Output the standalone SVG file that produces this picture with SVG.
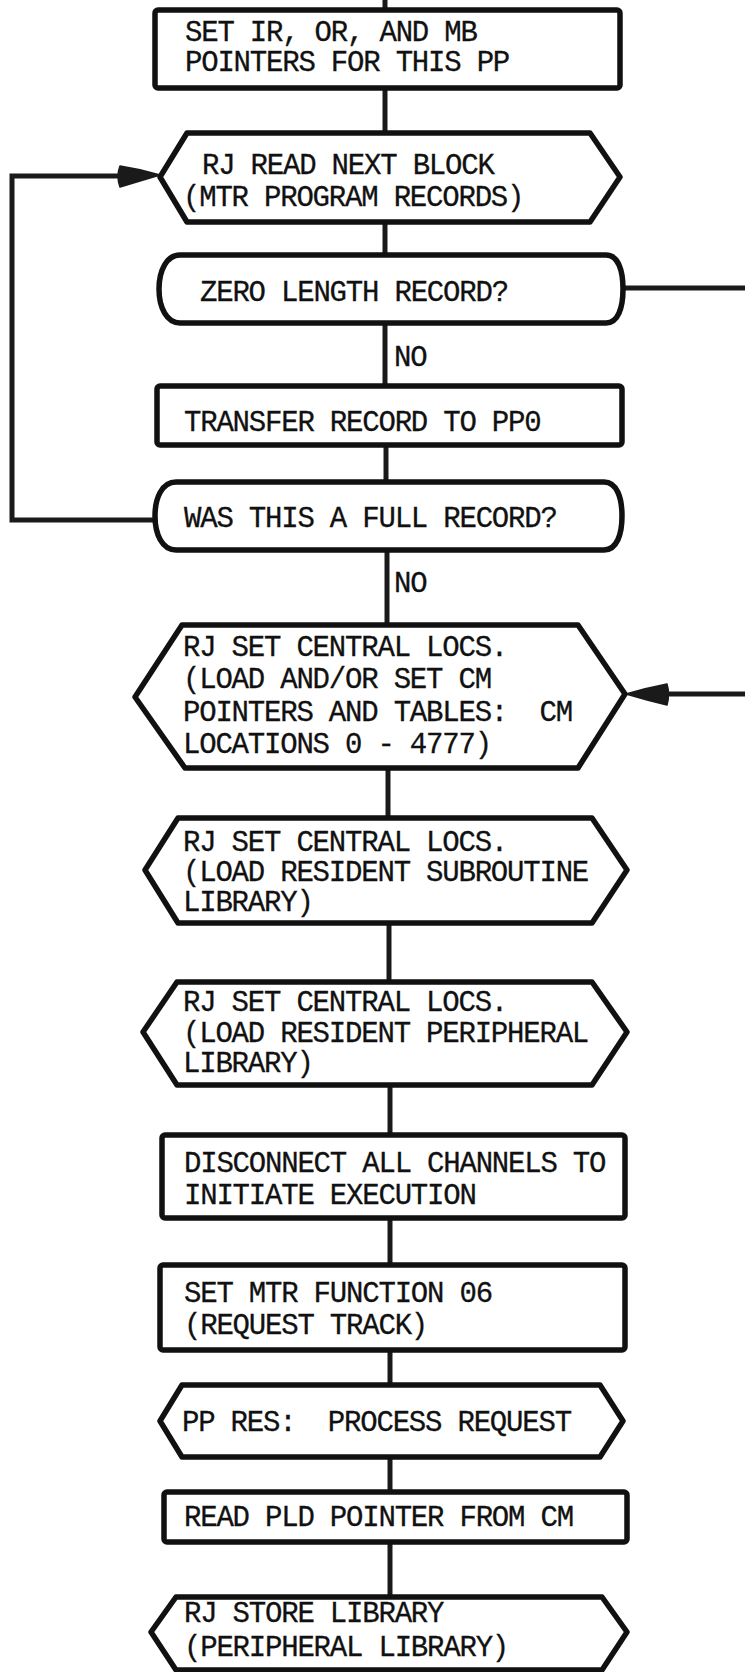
<svg xmlns="http://www.w3.org/2000/svg" width="745" height="1672" viewBox="0 0 745 1672">
  <style>
    .shape { fill: #fff; stroke: #111; stroke-width: 5.5; stroke-linejoin: round; }
    .wire { fill: none; stroke: #1a1a1a; stroke-width: 5; stroke-linejoin: miter; }
    .head { fill: #1a1a1a; stroke: #1a1a1a; stroke-width: 1.5; stroke-linejoin: round; }
    text { font-family: "Liberation Mono", "Courier New", monospace; font-size: 29px; letter-spacing: -1.2px; fill: #111; stroke: #111; stroke-width: 0.3; white-space: pre; }
  </style>
  <rect width="745" height="1672" fill="#fff"/>

  <!-- connectors -->
  <g id="connectors">
    <path class="wire" d="M385,0 V10"/>
    <path class="wire" d="M385,88 V133"/>
    <path class="wire" d="M385,222 V255"/>
    <path class="wire" d="M385,323 V386"/>
    <path class="wire" d="M386,445 V482"/>
    <path class="wire" d="M387,550 V625"/>
    <path class="wire" d="M388,768 V818"/>
    <path class="wire" d="M389,923 V982"/>
    <path class="wire" d="M390,1085 V1135"/>
    <path class="wire" d="M390,1218 V1265"/>
    <path class="wire" d="M390,1350 V1385"/>
    <path class="wire" d="M390,1457 V1492"/>
    <path class="wire" d="M390,1542 V1597"/>
    <!-- loop back from full-record test to read next block -->
    <path class="wire" d="M156,520 H12 V176 H122"/>
    <path class="head" d="M120,166 Q140,169 160,175 Q140,181 120,187 Q116,176 120,166 Z"/>
    <!-- zero length exit, re-entering at set central locs -->
    <path class="wire" d="M623,288 H745"/>
    <path class="wire" d="M665,694 H745"/>
    <path class="head" d="M667,684 Q670,694 667,705 Q646,700 626,694 Q646,688 667,684 Z"/>
    <text x="394" y="366">NO</text>
    <text x="394" y="592">NO</text>
  </g>

  <g id="set-pointers">
    <rect class="shape" x="155" y="10" width="465" height="78" rx="3"/>
    <text x="185" y="41">SET IR, OR, AND MB</text>
    <text x="185" y="71">POINTERS FOR THIS PP</text>
  </g>

  <g id="read-next-block">
    <path class="shape" d="M187,133 H590 L620,177 L590,222 H187 L160,177 Z"/>
    <text x="202" y="174">RJ READ NEXT BLOCK</text>
    <text x="183" y="206">(MTR PROGRAM RECORDS)</text>
  </g>

  <g id="zero-length">
    <path class="shape" d="M180,255 H606 C618,255 623,270 623,289 C623,308 618,323 606,323 H180 C167,323 159,308 159,289 C159,270 167,255 180,255 Z"/>
    <text x="200" y="301">ZERO LENGTH RECORD?</text>
  </g>

  <g id="transfer-record">
    <rect class="shape" x="157" y="386" width="465" height="59" rx="3"/>
    <text x="184" y="431">TRANSFER RECORD TO PP0</text>
  </g>

  <g id="full-record">
    <path class="shape" d="M176,482 H604 C617,482 622,498 622,516 C622,534 617,550 604,550 H176 C162,550 155,534 155,516 C155,498 162,482 176,482 Z"/>
    <text x="184" y="527">WAS THIS A FULL RECORD?</text>
  </g>

  <g id="set-central-cm">
    <path class="shape" d="M182,625 H578 L625,694 L578,768 H185 L135,697 Z"/>
    <text x="183" y="656">RJ SET CENTRAL LOCS.</text>
    <text x="183" y="688">(LOAD AND/OR SET CM</text>
    <text x="183" y="721">POINTERS AND TABLES:  CM</text>
    <text x="183" y="753">LOCATIONS 0 - 4777)</text>
  </g>

  <g id="set-central-subroutine">
    <path class="shape" d="M178,818 H592 L627,870 L592,923 H178 L145,870 Z"/>
    <text x="183" y="851">RJ SET CENTRAL LOCS.</text>
    <text x="183" y="881">(LOAD RESIDENT SUBROUTINE</text>
    <text x="183" y="911">LIBRARY)</text>
  </g>

  <g id="set-central-peripheral">
    <path class="shape" d="M177,982 H592 L627,1032 L592,1085 H177 L143,1032 Z"/>
    <text x="183" y="1011">RJ SET CENTRAL LOCS.</text>
    <text x="183" y="1042">(LOAD RESIDENT PERIPHERAL</text>
    <text x="183" y="1072">LIBRARY)</text>
  </g>

  <g id="disconnect-channels">
    <rect class="shape" x="162" y="1135" width="463" height="83" rx="3"/>
    <text x="184" y="1172">DISCONNECT ALL CHANNELS TO</text>
    <text x="184" y="1204">INITIATE EXECUTION</text>
  </g>

  <g id="set-mtr-function">
    <rect class="shape" x="160" y="1265" width="465" height="85" rx="3"/>
    <text x="184" y="1302">SET MTR FUNCTION 06</text>
    <text x="184" y="1334">(REQUEST TRACK)</text>
  </g>

  <g id="process-request">
    <path class="shape" d="M182,1385 H600 L623,1421 L600,1457 H182 L160,1421 Z"/>
    <text x="182" y="1431">PP RES:  PROCESS REQUEST</text>
  </g>

  <g id="read-pld-pointer">
    <rect class="shape" x="164" y="1492" width="463" height="50" rx="3"/>
    <text x="184" y="1526">READ PLD POINTER FROM CM</text>
  </g>

  <g id="store-library">
    <path class="shape" d="M176,1597 H602 L627,1632 L602,1670 H176 L151,1632 Z"/>
    <text x="184" y="1622">RJ STORE LIBRARY</text>
    <text x="184" y="1656">(PERIPHERAL LIBRARY)</text>
  </g>
</svg>
